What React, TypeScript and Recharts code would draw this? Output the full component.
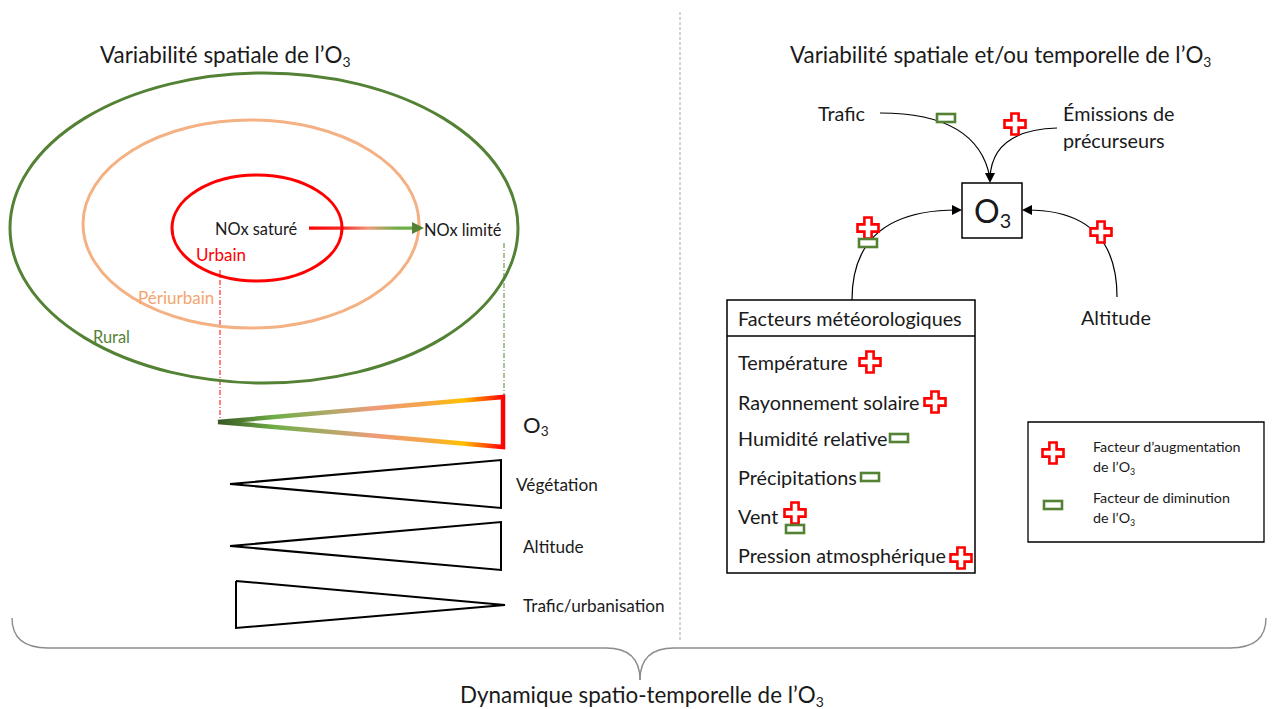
import { ComposedChart, XAxis, YAxis, Line, Scatter, ReferenceLine, ReferenceArea } from "recharts";

const W = 1272;
const H = 709;
const FONT = "Lato, 'Open Sans', sans-serif";

// zones around the city (centre, half axes)
const ZONES = [
  { name: "Rural", x: 264, y: 228, rx: 254, ry: 155 },
  { name: "Périurbain", x: 251, y: 224, rx: 168, ry: 104 },
  { name: "Urbain", x: 257, y: 228, rx: 85, ry: 53 },
];
const ZONE_COLORS: Record<string, string> = {
  Rural: "#548235",
  Périurbain: "#F4B183",
  Urbain: "#FF0000",
};

// wedges (gradients of O3 and its drivers)
const O3_WEDGE = [
  { x: 218, y: 422 },
  { x: 503, y: 397 },
  { x: 503, y: 447 },
  { x: 218, y: 422 },
];
const VEGETATION_WEDGE = [
  { x: 230, y: 484 },
  { x: 501, y: 460 },
  { x: 501, y: 508 },
  { x: 230, y: 484 },
];
const ALTITUDE_WEDGE = [
  { x: 230, y: 546 },
  { x: 501, y: 522 },
  { x: 501, y: 570 },
  { x: 230, y: 546 },
];
const TRAFIC_WEDGE = [
  { x: 236, y: 581 },
  { x: 505, y: 605 },
  { x: 236, y: 628 },
  { x: 236, y: 581 },
];

// arrows into the O3 box: start, control, end
const ARROW_CURVES = [
  [{ x: 880, y: 113 }, { x: 978, y: 113 }, { x: 990, y: 178 }],
  [{ x: 1057, y: 128 }, { x: 992, y: 130 }, { x: 990, y: 178 }],
  [{ x: 852, y: 300 }, { x: 852, y: 210 }, { x: 957, y: 210 }],
  [{ x: 1117, y: 297 }, { x: 1117, y: 210 }, { x: 1027, y: 210 }],
];
const ARROW_HEADS = [
  { x: 990, y: 183, dir: "down", color: "#000" },
  { x: 962, y: 210, dir: "right", color: "#000" },
  { x: 1022, y: 210, dir: "left", color: "#000" },
  { x: 424, y: 228, dir: "right", color: "#548235" },
];

// bottom brace
const BRACE = [
  [{ x: 12, y: 618 }, { x: 12, y: 648 }, { x: 48, y: 648 }],
  [{ x: 48, y: 648 }, { x: 606, y: 648 }],
  [{ x: 606, y: 648 }, { x: 640, y: 648 }, { x: 640, y: 680 }],
  [{ x: 640, y: 680 }, { x: 640, y: 648 }, { x: 674, y: 648 }],
  [{ x: 674, y: 648 }, { x: 1230, y: 648 }],
  [{ x: 1230, y: 648 }, { x: 1266, y: 648 }, { x: 1266, y: 618 }],
];

const PLUS_SIGNS = [
  { x: 1015, y: 124 },
  { x: 868, y: 228 },
  { x: 1101, y: 232 },
  { x: 870, y: 362 },
  { x: 935, y: 402 },
  { x: 795, y: 513 },
  { x: 961, y: 558 },
  { x: 1053, y: 453 },
];
const MINUS_SIGNS = [
  { x: 946, y: 118 },
  { x: 868, y: 243 },
  { x: 899, y: 438 },
  { x: 870, y: 477 },
  { x: 795, y: 529 },
  { x: 1053, y: 505 },
];

const LABELS = [
  { text: "Variabilité spatiale de l’O", sub: "3", x: 100, y: 54, kind: "title" },
  { text: "Variabilité spatiale et/ou temporelle de l’O", sub: "3", x: 790, y: 54, kind: "title" },
  { text: "Dynamique spatio-temporelle de l’O", sub: "3", x: 460, y: 694, kind: "title" },
  { text: "NOx saturé", x: 215, y: 228, kind: "nox" },
  { text: "NOx limité", x: 424, y: 229, kind: "nox" },
  { text: "Urbain", x: 196, y: 254, kind: "urbain" },
  { text: "Périurbain", x: 138, y: 297, kind: "periurbain" },
  { text: "Rural", x: 93, y: 336, kind: "rural" },
  { text: "O", sub: "3", x: 523, y: 424, kind: "o3" },
  { text: "Végétation", x: 516, y: 484, kind: "small" },
  { text: "Altitude", x: 523, y: 546, kind: "small" },
  { text: "Trafic/urbanisation", x: 523, y: 605, kind: "small" },
  { text: "Trafic", x: 818, y: 113, kind: "body" },
  { text: "Émissions de", x: 1063, y: 113, kind: "body" },
  { text: "précurseurs", x: 1063, y: 140, kind: "body" },
  { text: "O", sub: "3", x: 974, y: 210, kind: "box" },
  { text: "Altitude", x: 1081, y: 317, kind: "body" },
  { text: "Facteurs météorologiques", x: 738, y: 318, kind: "body" },
  { text: "Température", x: 738, y: 362, kind: "body" },
  { text: "Rayonnement solaire", x: 738, y: 402, kind: "body" },
  { text: "Humidité relative", x: 738, y: 438, kind: "body" },
  { text: "Précipitations", x: 738, y: 477, kind: "body" },
  { text: "Vent", x: 738, y: 516, kind: "body" },
  { text: "Pression atmosphérique", x: 738, y: 555, kind: "body" },
  { text: "Facteur d’augmentation", x: 1093, y: 446, kind: "legend" },
  { text: "de l’O", sub: "3", x: 1093, y: 466, kind: "legend" },
  { text: "Facteur de diminution", x: 1093, y: 497, kind: "legend" },
  { text: "de l’O", sub: "3", x: 1093, y: 517, kind: "legend" },
];

const LABEL_STYLES: Record<string, { size: number; color: string }> = {
  title: { size: 22.4, color: "#1a1a1a" },
  nox: { size: 16.4, color: "#1a1a1a" },
  small: { size: 17.2, color: "#1a1a1a" },
  urbain: { size: 17, color: "#FF0000" },
  periurbain: { size: 17, color: "#F4A56E" },
  rural: { size: 16.4, color: "#548235" },
  o3: { size: 22, color: "#1a1a1a" },
  body: { size: 19.8, color: "#1a1a1a" },
  box: { size: 32, color: "#1a1a1a" },
  legend: { size: 14.3, color: "#1a1a1a" },
};

// quadratic bezier through start / control / end, straight otherwise
const quadCurve = (context: any) => {
  let pts: number[][] = [];
  return {
    areaStart() {},
    areaEnd() {},
    lineStart() {
      pts = [];
    },
    point(x: number, y: number) {
      pts.push([x, y]);
    },
    lineEnd() {
      if (!pts.length) return;
      context.moveTo(pts[0][0], pts[0][1]);
      if (pts.length === 3) {
        context.quadraticCurveTo(pts[1][0], pts[1][1], pts[2][0], pts[2][1]);
      } else {
        for (let i = 1; i < pts.length; i++) context.lineTo(pts[i][0], pts[i][1]);
      }
    },
  };
};

const renderZone = (p: any) => (
  <ellipse
    cx={p.cx}
    cy={p.cy}
    rx={p.payload.rx}
    ry={p.payload.ry}
    fill="none"
    stroke={ZONE_COLORS[p.payload.name]}
    strokeWidth={3}
  />
);

const renderPlus = (p: any) => {
  const a = 3.6;
  const l = 10.5;
  const pts = [
    [-a, -l], [a, -l], [a, -a], [l, -a], [l, a], [a, a],
    [a, l], [-a, l], [-a, a], [-l, a], [-l, -a], [-a, -a],
  ]
    .map(([dx, dy]) => `${p.cx + dx},${p.cy + dy}`)
    .join(" ");
  return <polygon points={pts} fill="#fff" stroke="#FF0000" strokeWidth={2.6} />;
};

const renderMinus = (p: any) => (
  <rect x={p.cx - 9} y={p.cy - 4} width={18} height={8} fill="#fff" stroke="#548235" strokeWidth={2.6} />
);

const renderHead = (p: any) => {
  const d = p.payload.dir;
  const rot = d === "down" ? 90 : d === "left" ? 180 : 0;
  const s = p.payload.color === "#000" ? 5 : 6;
  return (
    <polygon
      points={`${-2 * s},${-s} 0,0 ${-2 * s},${s}`}
      transform={`translate(${p.cx},${p.cy}) rotate(${rot})`}
      fill={p.payload.color}
    />
  );
};

const renderLabel = (p: any) => {
  const d = p.payload;
  const st = LABEL_STYLES[d.kind];
  return (
    <text
      x={p.cx}
      y={p.cy}
      fontSize={st.size}
      fill={st.color}
      fontFamily={FONT}
      dominantBaseline="central"
    >
      {d.text}
      {d.sub && (
        <tspan fontSize={st.size * 0.62} dy={st.size * 0.32}>
          {d.sub}
        </tspan>
      )}
    </text>
  );
};

export default function App() {
  const wedgeProps = {
    dataKey: "y",
    type: quadCurve as any,
    dot: false,
    activeDot: false,
    isAnimationActive: false,
    strokeLinejoin: "miter" as const,
  };
  return (
    <div style={{ position: "absolute", left: 0, top: 0, background: "#fff" }}>
      <ComposedChart width={W} height={H} margin={{ top: 0, right: 0, bottom: 0, left: 0 }}>
        <defs>
          <linearGradient id="o3Gradient" x1="0" y1="0" x2="1" y2="0">
            <stop offset="0%" stopColor="#385723" />
            <stop offset="20%" stopColor="#70AD47" />
            <stop offset="40%" stopColor="#B4A86A" />
            <stop offset="55%" stopColor="#EE9B7A" />
            <stop offset="72%" stopColor="#F4A54A" />
            <stop offset="86%" stopColor="#FFC000" />
            <stop offset="100%" stopColor="#FF0000" />
          </linearGradient>
          <linearGradient id="noxGradient" x1="0" y1="0" x2="1" y2="0">
            <stop offset="0%" stopColor="#FF0000" />
            <stop offset="30%" stopColor="#F42A2A" />
            <stop offset="55%" stopColor="#EE9B7A" />
            <stop offset="80%" stopColor="#70AD47" />
            <stop offset="100%" stopColor="#70AD47" />
          </linearGradient>
        </defs>
        <XAxis dataKey="x" type="number" domain={[0, W]} allowDataOverflow hide />
        <YAxis dataKey="y" type="number" domain={[0, H]} allowDataOverflow reversed hide />

        {/* separator */}
        <ReferenceLine
          segment={[{ x: 680, y: 12 }, { x: 680, y: 640 }]}
          stroke="#a6a6a6"
          strokeDasharray="3 2"
        />

        {/* boxes */}
        <ReferenceArea x1={962} x2={1022} y1={183} y2={238} fill="#fff" fillOpacity={1} stroke="#000" strokeWidth={1.5} />
        <ReferenceArea x1={727} x2={975} y1={300} y2={573} fill="#fff" fillOpacity={1} stroke="#000" strokeWidth={1.5} />
        <ReferenceArea x1={1028} x2={1264} y1={422} y2={542} fill="#fff" fillOpacity={1} stroke="#000" strokeWidth={1.3} />
        <ReferenceLine segment={[{ x: 727, y: 336 }, { x: 975, y: 336 }]} stroke="#000" strokeWidth={1.5} />

        {/* NOx arrow */}
        <ReferenceArea x1={309} x2={418} y1={226.5} y2={229.8} fill="url(#noxGradient)" fillOpacity={1} />

        {/* drop lines from zones to the O3 wedge */}
        <ReferenceLine
          segment={[{ x: 220, y: 270 }, { x: 220, y: 422 }]}
          stroke="#FF0000"
          strokeDasharray="5 2 1 2"
        />
        <ReferenceLine
          segment={[{ x: 504, y: 243 }, { x: 504, y: 396 }]}
          stroke="#548235"
          strokeDasharray="5 2 1 2"
        />

        <Scatter data={ZONES} shape={renderZone} isAnimationActive={false} />

        <Line {...wedgeProps} data={O3_WEDGE} stroke="url(#o3Gradient)" strokeWidth={4.5} />
        <Line {...wedgeProps} data={VEGETATION_WEDGE} stroke="#000" strokeWidth={2} />
        <Line {...wedgeProps} data={ALTITUDE_WEDGE} stroke="#000" strokeWidth={2} />
        <Line {...wedgeProps} data={TRAFIC_WEDGE} stroke="#000" strokeWidth={2} />

        {ARROW_CURVES.map((c, i) => (
          <Line key={`arrow-${i}`} {...wedgeProps} data={c} stroke="#000" strokeWidth={1.2} />
        ))}
        {BRACE.map((c, i) => (
          <Line key={`brace-${i}`} {...wedgeProps} data={c} stroke="#8c8c8c" strokeWidth={1.4} />
        ))}

        <Scatter data={ARROW_HEADS} shape={renderHead} isAnimationActive={false} />
        <Scatter data={PLUS_SIGNS} shape={renderPlus} isAnimationActive={false} />
        <Scatter data={MINUS_SIGNS} shape={renderMinus} isAnimationActive={false} />
        <Scatter data={LABELS} shape={renderLabel} isAnimationActive={false} />
      </ComposedChart>
    </div>
  );
}
